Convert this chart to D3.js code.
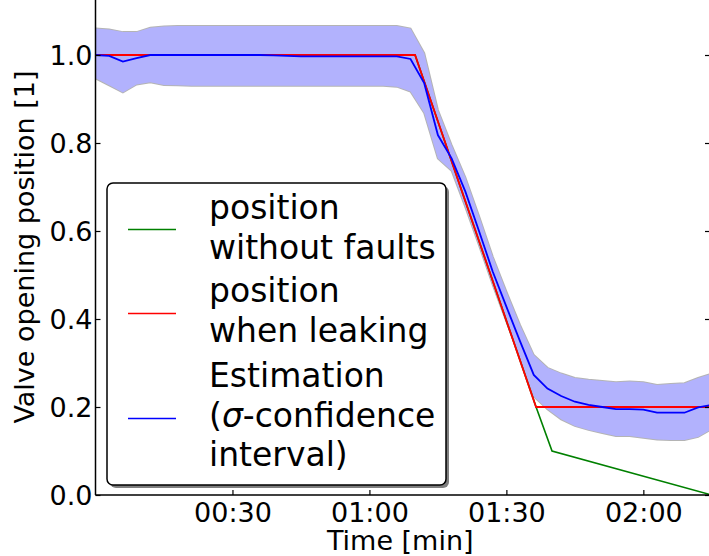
<!DOCTYPE html>
<html lang="en">
<head>
<meta charset="UTF-8">
<title>Valve opening position</title>
<style>
  body { margin: 0; background: #fff; overflow: hidden; }
  svg { display: block; font-family: "DejaVu Sans", sans-serif; }
</style>
</head>
<body>
<svg id="chart" width="709" height="556"></svg>
<script src="https://cdn.jsdelivr.net/npm/d3@7/dist/d3.min.js"></script>
<script>
// time in seconds, estimation sampled every 3 s
const estTime = [0, 3, 6, 9, 12, 15, 18, 21, 24, 27,
                 30, 33, 36, 39, 42, 45, 48, 51, 54, 57,
                 60, 63, 66, 69, 72, 75, 78, 81, 84, 87,
                 90, 93, 96, 99, 102, 105, 108, 111, 114, 117,
                 120, 123, 126, 129, 132, 135];
const estimate = [1.000, 0.998, 0.985, 0.993, 1.000, 1.000, 1.000, 1.000, 1.000, 1.000,
                  1.000, 1.000, 1.000, 0.999, 0.998, 0.997, 0.997, 0.997, 0.997, 0.997,
                  0.997, 0.997, 0.997, 0.991, 0.936, 0.818, 0.765, 0.690, 0.600, 0.508,
                  0.428, 0.349, 0.273, 0.242, 0.225, 0.212, 0.205, 0.200, 0.195, 0.195,
                  0.194, 0.187, 0.187, 0.187, 0.199, 0.205];
const estUpper = [1.060, 1.058, 1.052, 1.052, 1.062, 1.065, 1.066, 1.066, 1.066, 1.066,
                  1.066, 1.066, 1.066, 1.066, 1.066, 1.066, 1.066, 1.066, 1.066, 1.066,
                  1.066, 1.066, 1.066, 1.060, 1.004, 0.875, 0.795, 0.722, 0.634, 0.542,
                  0.462, 0.386, 0.318, 0.289, 0.276, 0.266, 0.262, 0.259, 0.256, 0.258,
                  0.256, 0.250, 0.252, 0.254, 0.266, 0.276];
const estLower = [0.947, 0.931, 0.915, 0.933, 0.938, 0.932, 0.931, 0.930, 0.930, 0.930,
                  0.930, 0.930, 0.930, 0.930, 0.930, 0.930, 0.930, 0.930, 0.930, 0.930,
                  0.930, 0.930, 0.928, 0.917, 0.868, 0.765, 0.737, 0.655, 0.568, 0.478,
                  0.394, 0.312, 0.224, 0.195, 0.172, 0.157, 0.148, 0.141, 0.134, 0.134,
                  0.130, 0.126, 0.125, 0.125, 0.132, 0.150];

const nominalTime = [0, 70, 96.5, 100, 135];
const nominalPos  = [1.0, 1.0, 0.2, 0.1, 0.0];
const leakTime = [0, 70, 96.5, 135];
const leakPos  = [1.0, 1.0, 0.2, 0.2];

const xTicks = [30, 60, 90, 120];
const xTickLabels = ["00:30", "01:00", "01:30", "02:00"];
const yTicks = [0, 0.2, 0.4, 0.6, 0.8, 1.0];

const legendEntries = [
  { lines: ["position", "without faults"], color: "#008000" },
  { lines: ["position", "when leaking"], color: "#ff0000" },
  { lines: ["Estimation", "(σ-confidence", "interval)"], color: "#0000ff" }
];

// layout
const mLeft = 95.5, mRight = 710, mTop = 0, mBottom = 495;
const svg = d3.select("#chart");

const x = d3.scaleLinear().domain([0, 134.6]).range([mLeft, mRight]);
const y = d3.scaleLinear().domain([0, 1.125]).range([mBottom, mTop]);

svg.append("defs").append("clipPath").attr("id", "plot")
  .append("rect").attr("x", mLeft).attr("y", -10).attr("width", mRight - mLeft).attr("height", mBottom + 10);

const plot = svg.append("g").attr("clip-path", "url(#plot)");

// confidence band: grey outline first, fill on top
const band = estTime.map((t, i) => ({ t, lo: estLower[i], hi: estUpper[i] }));
const area = d3.area().x(d => x(d.t)).y0(d => y(d.lo)).y1(d => y(d.hi));
plot.append("path")
  .datum(band)
  .attr("fill", "none")
  .attr("stroke", "#b4b4b4")
  .attr("stroke-width", 2)
  .attr("d", area);
plot.append("path")
  .datum(band)
  .attr("fill", "#b2b2fd")
  .attr("d", area);

const line = d3.line().x(d => x(d[0])).y(d => y(d[1]));

plot.append("path")
  .datum(nominalTime.map((t, i) => [t, nominalPos[i]]))
  .attr("fill", "none").attr("stroke", "#008000").attr("stroke-width", 1.6)
  .attr("d", line);

plot.append("path")
  .datum(leakTime.map((t, i) => [t, leakPos[i]]))
  .attr("fill", "none").attr("stroke", "#ff0000").attr("stroke-width", 1.8)
  .attr("d", line);

plot.append("path")
  .datum(estTime.map((t, i) => [t, estimate[i]]))
  .attr("fill", "none").attr("stroke", "#0000ff").attr("stroke-width", 1.8)
  .attr("d", line);

// axes: ticks pointing inwards
const xAxis = svg.append("g").attr("transform", `translate(0,${mBottom})`)
  .call(d3.axisBottom(x).tickValues(xTicks).tickSizeInner(-5).tickSizeOuter(0)
    .tickPadding(0).tickFormat((d, i) => xTickLabels[i]));
xAxis.select(".domain").remove();
xAxis.selectAll("text").attr("font-size", 27).attr("fill", "#000").attr("dy", null).attr("y", 27)
  .attr("font-family", "DejaVu Sans");
xAxis.selectAll("line").attr("stroke", "#000").attr("stroke-width", 1.2);

const yAxis = svg.append("g").attr("transform", `translate(${mLeft},0)`)
  .call(d3.axisLeft(y).tickValues(yTicks).tickSizeInner(-5).tickSizeOuter(0)
    .tickPadding(0).tickFormat(d3.format(".1f")));
yAxis.select(".domain").remove();
yAxis.selectAll("text").attr("font-size", 27).attr("fill", "#000").attr("x", -3)
  .attr("dy", "0.36em").attr("font-family", "DejaVu Sans");
yAxis.selectAll("line").attr("stroke", "#000").attr("stroke-width", 1.2);

const yAxisR = svg.append("g").attr("transform", `translate(${mRight},0)`)
  .call(d3.axisRight(y).tickValues(yTicks).tickSizeInner(-5).tickSizeOuter(0).tickFormat(""));
yAxisR.select(".domain").remove();
yAxisR.selectAll("line").attr("stroke", "#000").attr("stroke-width", 1.2);

// spines
svg.append("line").attr("x1", mLeft).attr("x2", mLeft).attr("y1", mTop).attr("y2", mBottom)
  .attr("stroke", "#000").attr("stroke-width", 1.5);
svg.append("line").attr("x1", mLeft).attr("x2", mRight).attr("y1", mBottom).attr("y2", mBottom)
  .attr("stroke", "#000").attr("stroke-width", 1.5);

// axis labels
svg.append("text").attr("x", (mLeft + 709) / 2 - 2).attr("y", 550)
  .attr("text-anchor", "middle").attr("font-size", 27).text("Time [min]");
svg.append("text").attr("transform", `translate(34,247) rotate(-90)`)
  .attr("text-anchor", "middle").attr("font-size", 27).text("Valve opening position [1]");

// legend
const lg = svg.append("g");
const box = { x: 107, y: 183, w: 339, h: 302 };
lg.append("rect").attr("x", box.x + 3).attr("y", box.y + 3).attr("width", box.w).attr("height", box.h)
  .attr("rx", 6).attr("fill", "#7f7f7f");
lg.append("rect").attr("x", box.x).attr("y", box.y).attr("width", box.w).attr("height", box.h)
  .attr("rx", 6).attr("fill", "#fff").attr("stroke", "#000").attr("stroke-width", 1.5);

const entryBaselines = [[219, 259], [302, 342], [387, 427, 466]];
const handleY = [229.5, 313.5, 418.5];
legendEntries.forEach((e, i) => {
  lg.append("line").attr("x1", 128).attr("x2", 176).attr("y1", handleY[i]).attr("y2", handleY[i])
    .attr("stroke", e.color).attr("stroke-width", 1.5);
  e.lines.forEach((s, j) => {
    const t = lg.append("text").attr("x", 209).attr("y", entryBaselines[i][j]).attr("font-size", 33);
    if (s.includes("σ")) {
      const parts = s.split("σ");
      t.append("tspan").text(parts[0]);
      t.append("tspan").attr("font-style", "italic").text("σ");
      t.append("tspan").text(parts[1]);
    } else {
      t.text(s);
    }
  });
});
</script>
</body>
</html>
